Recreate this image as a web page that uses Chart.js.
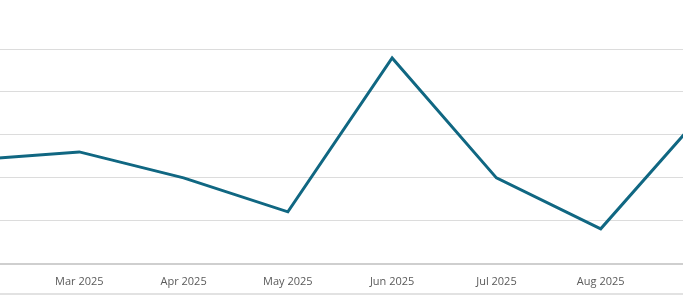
<!DOCTYPE html>
<html>
<head>
<meta charset="utf-8">
<script src="https://cdn.jsdelivr.net/npm/chart.js@4"></script>
<style>
  html, body { margin: 0; padding: 0; background: #fff; overflow: hidden; }
  #wrap { position: relative; width: 683px; height: 293px; overflow: hidden; border-bottom: 2px solid #e2e2e2; }
  #box { position: absolute; left: -25px; top: 0; width: 730px; height: 301px; }
</style>
</head>
<body>
<div id="wrap">
  <div id="box"><canvas id="myChart"></canvas></div>
</div>
<script>
// months shown (first and last fall outside the visible window)
var months = ['Feb 2025', 'Mar 2025', 'Apr 2025', 'May 2025', 'Jun 2025', 'Jul 2025', 'Aug 2025', 'Sep 2025'];
var values = [48.4, 52.1, 40, 24.2, 95.8, 40, 16.3, 71.3];
var yTicks = [0, 20, 40, 60, 80, 100];

var ctx = document.getElementById('myChart').getContext('2d');
var chart = new Chart(ctx, {
    type: 'line',
    data: {
        labels: months,
        datasets: [{
            data: values,
            borderColor: 'rgb(16, 103, 130)',
            borderWidth: 3,
            pointRadius: 0,
            tension: 0,
            fill: false
        }]
    },
    options: {
        responsive: true,
        maintainAspectRatio: false,
        animation: false,
        layout: { padding: { top: 49, bottom: 2, left: 0, right: 0 } },
        plugins: { legend: { display: false }, tooltip: { enabled: false } },
        scales: {
            x: {
                offset: false,
                grid: { display: false, drawTicks: false },
                border: { display: true, color: '#cfcfcf', width: 2 },
                ticks: {
                    autoSkip: false,
                    maxRotation: 0,
                    padding: 11,
                    color: '#5a5a5a',
                    font: { family: 'Open Sans', size: 11 },
                    // edge months sit outside the window, keep them blank
                    callback: function (val, i) {
                        return (i === 0 || i === months.length - 1) ? '' : months[i];
                    }
                },
                afterFit: function (axis) {
                    axis.paddingLeft = 0;
                    axis.paddingRight = 0;
                }
            },
            y: {
                min: yTicks[0],
                max: yTicks[yTicks.length - 1],
                afterBuildTicks: function (axis) {
                    axis.ticks = yTicks.map(function (v) { return { value: v }; });
                },
                grid: { color: '#dcdcdc', lineWidth: 1, drawTicks: false },
                border: { display: false },
                ticks: { display: false }
            }
        }
    }
});
</script>
</body>
</html>
